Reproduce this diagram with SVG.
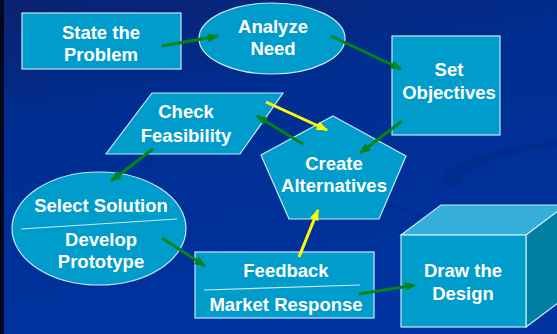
<svg xmlns="http://www.w3.org/2000/svg" width="557" height="334" viewBox="0 0 557 334">
<defs>
<linearGradient id="bg" x1="0" y1="0" x2="0.3" y2="1">
<stop offset="0" stop-color="#0b2270"/>
<stop offset="0.35" stop-color="#002d90"/>
<stop offset="1" stop-color="#0033a0"/>
</linearGradient>
<marker id="ag" viewBox="0 0 10 8" refX="9" refY="4" markerWidth="12" markerHeight="9" markerUnits="userSpaceOnUse" orient="auto">
<path d="M0,0 L10,4 L0,8 z" fill="#00841c"/>
</marker>
<marker id="ay" viewBox="0 0 10 8" refX="9" refY="4" markerWidth="12" markerHeight="9" markerUnits="userSpaceOnUse" orient="auto">
<path d="M0,0 L10,4 L0,8 z" fill="#ffff00"/>
</marker>
<style>
.n{fill:#009ccc;stroke:#c8e8f4;stroke-width:1.2}
.t{font-family:"Liberation Sans",Arial,sans-serif;font-weight:bold;font-size:18.5px;fill:#ffffff;text-anchor:middle}
.d{stroke:#c8e8f4;stroke-width:1.2;fill:none}
.g{stroke:#00841c;stroke-width:3;fill:none;marker-end:url(#ag)}
.y{stroke:#ffff00;stroke-width:3;fill:none;marker-end:url(#ay)}
</style>
</defs>
<rect x="0" y="0" width="557" height="334" fill="url(#bg)"/>
<rect x="0" y="0" width="4" height="334" fill="#000820"/>
<path d="M443,176 C450,160 500,148 557,140 L557,146 C510,152 465,165 457,188 C448,188 441,183 443,176 z" fill="#00297f" opacity="0.45"/>
<path d="M390,205 C420,215 450,225 480,235" stroke="#00297f" stroke-width="3" fill="none" opacity="0.4"/>

<g id="state-problem">
<rect class="n" x="22" y="13" width="159" height="56"/>
<text class="t" x="101" y="39">State the</text>
<text class="t" x="101" y="61">Problem</text>
</g>
<g id="analyze-need">
<ellipse class="n" cx="272" cy="38.5" rx="73" ry="35.5"/>
<text class="t" x="273" y="33">Analyze</text>
<text class="t" x="273" y="55">Need</text>
</g>
<g id="set-objectives">
<rect class="n" x="392" y="36" width="108" height="99"/>
<text class="t" x="449" y="76">Set</text>
<text class="t" x="449" y="99">Objectives</text>
</g>
<g id="check-feasibility">
<polygon class="n" points="152,93 283,93 240,154 106,154"/>
<text class="t" x="186" y="118">Check</text>
<text class="t" x="186" y="142">Feasibility</text>
</g>
<g id="create-alternatives">
<polygon class="n" points="333,116 406,156 379,219 289,219 261,155"/>
<text class="t" x="334" y="170">Create</text>
<text class="t" x="334" y="192">Alternatives</text>
</g>
<g id="select-develop">
<ellipse class="n" cx="99" cy="228.5" rx="87" ry="56.5"/>
<line class="d" x1="21" y1="229" x2="177" y2="219"/>
<text class="t" x="101" y="212">Select Solution</text>
<text class="t" x="101" y="246">Develop</text>
<text class="t" x="101" y="268">Prototype</text>
</g>
<g id="feedback-market">
<rect class="n" x="195" y="252" width="179" height="66"/>
<line class="d" x1="204" y1="290" x2="360" y2="285"/>
<text class="t" x="286" y="277">Feedback</text>
<text class="t" x="286" y="311">Market Response</text>
</g>
<g id="draw-design">
<polygon points="401,235 441,205 566,205 526,235" fill="#35afda" stroke="#c8e8f4" stroke-width="1.2"/>
<polygon points="526,235 566,205 566,297 526,327" fill="#007fa3" stroke="#c8e8f4" stroke-width="1.2"/>
<rect class="n" x="401" y="235" width="125" height="92"/>
<text class="t" x="463" y="277">Draw the</text>
<text class="t" x="463" y="300">Design</text>
</g>
<g id="connectors">
<line class="g" x1="162" y1="46" x2="218" y2="36"/>
<line class="g" x1="331" y1="36" x2="401" y2="69"/>
<line class="g" x1="402" y1="121" x2="360" y2="153"/>
<line class="y" x1="266" y1="102" x2="327" y2="130"/>
<line class="g" x1="303" y1="144" x2="257" y2="116"/>
<line class="g" x1="153" y1="149" x2="111" y2="181"/>
<line class="g" x1="162" y1="238" x2="205" y2="266"/>
<line class="y" x1="299" y1="257" x2="318" y2="210"/>
<line class="g" x1="359" y1="294" x2="415" y2="285"/>
</g>
</svg>
